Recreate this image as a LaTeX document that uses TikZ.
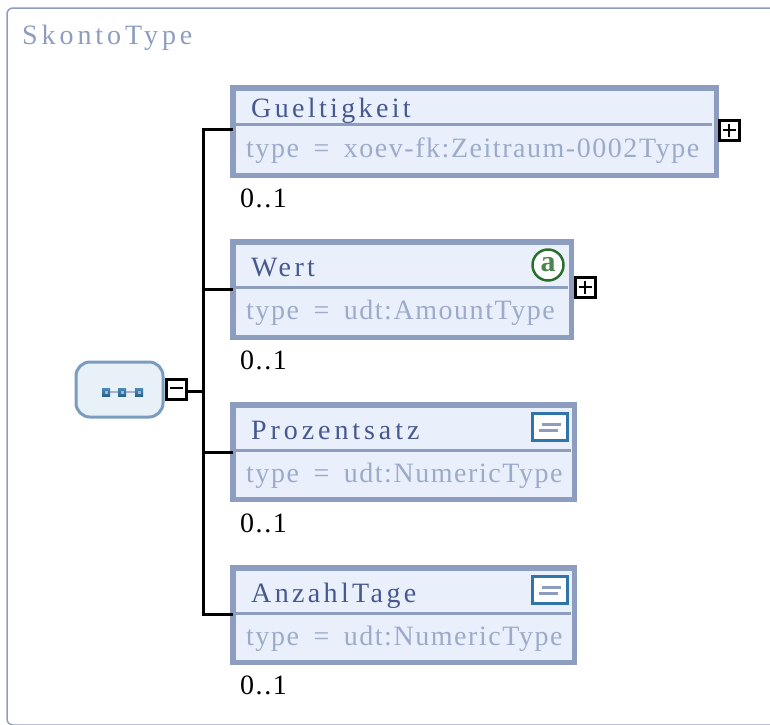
\documentclass[tikz,border=0pt]{standalone}
\usepackage{fontspec}
\setmainfont{Liberation Serif}
\newfontfamily\spacedfont[LetterSpace=12]{Liberation Serif}
\newfontfamily\widefont[LetterSpace=14]{Liberation Serif}
\newfontfamily\typefont[LetterSpace=5.5,WordSpace=1.7]{Liberation Serif}
\usetikzlibrary{positioning}
\definecolor{frameblue}{HTML}{8C9DBF}
\definecolor{titleblue}{HTML}{46588F}
\definecolor{typeblue}{HTML}{9DABCA}
\definecolor{boxfill}{HTML}{E9F0FB}
\definecolor{seqfill}{HTML}{E8F0F8}
\definecolor{seqline}{HTML}{7A9CBF}
\definecolor{iconblue}{HTML}{2F75AA}
\definecolor{attrgreen}{HTML}{2B6F2E}
\tikzstyle{Element}=[rectangle, draw=frameblue, fill=boxfill, line width=5.5, inner sep=0, outer sep=0]
\tikzstyle{Divider}=[draw=frameblue, line width=3]
\tikzstyle{Title}=[anchor=base west, inner sep=0, text=titleblue, font=\fontsize{28}{30}\spacedfont]
\tikzstyle{TypeText}=[anchor=base west, inner sep=0, text=typeblue, font=\fontsize{28}{30}\typefont]
\tikzstyle{Multi}=[anchor=base west, inner sep=0, text=black, font=\fontsize{28}{30}\typefont]
\tikzstyle{Wire}=[draw=black, line width=3]
\tikzstyle{Expander}=[rectangle, draw=black, fill=white, line width=3, minimum width=20, minimum height=20, inner sep=0, outer sep=0]
\tikzstyle{SeqDot}=[rectangle, top color=iconblue!85!white, bottom color=iconblue!85!black, minimum width=8, minimum height=8, inner sep=0, outer sep=0, path picture={\fill[iconblue!50!white] (path picture bounding box.center) ++(-1.5,-1.5) rectangle ++(3,3);}]
\tikzstyle{SimpleIcon}=[rectangle, draw=iconblue, fill=white, line width=3, minimum width=35, minimum height=27, inner sep=0, outer sep=0]

\begin{document}
\begin{tikzpicture}[x=1pt, y=-1pt]
    \useasboundingbox (0,0) rectangle (770,724);
    \begin{scope}
    \clip (0,0) rectangle (770,724);
    \draw[frameblue, line width=1.5, rounded corners=6] (7,8) rectangle (800,725);
    \end{scope}
    \path (22,44) node[anchor=base west, inner sep=0, text=frameblue, font=\fontsize{28}{30}\widefont] (frametitle) {SkontoType};

    \path
    (474.5,131.5) node[Element, minimum width=483.5, minimum height=87.5] (gueltigkeit) {}
    (402,289.5) node[Element, minimum width=338.5, minimum height=95.5] (wert) {}
    (403.5,452) node[Element, minimum width=341.5, minimum height=94.5] (prozentsatz) {}
    (403.5,615) node[Element, minimum width=341.5, minimum height=94.5] (anzahltage) {};

    \draw[Divider] (gueltigkeit.west |- 0,124) -- (712,124);
    \draw[Divider] (wert.west |- 0,287) -- (568,287);
    \draw[Divider] (prozentsatz.west |- 0,450) -- (571,450);
    \draw[Divider] (anzahltage.west |- 0,613) -- (571,613);

    \path
    (251,117) node[Title] (gueltigkeittitle) {Gueltigkeit}
    (251,276) node[Title] (werttitle) {Wert}
    (251,439) node[Title, font=\fontsize{28}{30}\widefont] (prozentsatztitle) {Prozentsatz}
    (251,602) node[Title] (anzahltagetitle) {AnzahlTage};
    \path
    (246,157) node[TypeText] (gueltigkeittype) {type = xoev-fk:Zeitraum-0002Type}
    (246,319) node[TypeText] (werttype) {type = udt:AmountType}
    (246,482) node[TypeText] (prozentsatztype) {type = udt:NumericType}
    (246,645) node[TypeText] (anzahltagetype) {type = udt:NumericType};
    \path
    (240,207) node[Multi] (gueltigkeitmulti) {0..1}
    (240,369) node[Multi] (wertmulti) {0..1}
    (240,532) node[Multi] (prozentsatzmulti) {0..1}
    (240,694) node[Multi] (anzahltagemulti) {0..1};

    % sequence box
    \path (119.5,389.5) node[rectangle, rounded corners=14, draw=seqline, fill=seqfill, line width=3, minimum width=87, minimum height=55, inner sep=0, outer sep=0] (sequence) {};
    \draw[frameblue!80!white, line width=2.5] (106,392) -- (139,392);
    \path
    (106,392) node[SeqDot] (dota) {}
    (122,392) node[SeqDot] (dotb) {}
    (139,392) node[SeqDot] (dotc) {};

    % expanders
    \path (176,389) node[Expander] (collapse) {};
    \draw[black, line width=2.5] (169.5,388) -- (182.5,388);
    \path (729,130) node[Expander] (gueltigkeitplus) {};
    \draw[black, line width=2.5] (722.5,130) -- (735.5,130) (729,123.5) -- (729,136.5);
    \path (585,287) node[Expander] (wertplus) {};
    \draw[black, line width=2.5] (578.5,287) -- (591.5,287) (585,280.5) -- (585,293.5);

    % icons
    \path (548,265) node[circle, draw=attrgreen, fill=white, line width=2.5, minimum size=31, inner sep=0, text=attrgreen!85!white, font=\fontsize{30}{30}\bfseries\selectfont] (wertattr) {a};
    \path
    (550,427) node[SimpleIcon] (prozentsatzicon) {}
    (550,590) node[SimpleIcon] (anzahltageicon) {};
    \draw[frameblue, line width=3] (542,424) -- (561,424) (539,430) -- (558,430);
    \draw[frameblue, line width=3] (542,587) -- (561,587) (539,593) -- (558,593);

    % connectors
    \coordinate (collapsejoin) at (203,391);
    \coordinate (gueltigkeitjoin) at (203,129);
    \coordinate (wertjoin) at (203,289);
    \coordinate (prozentsatzjoin) at (203,452);
    \coordinate (anzahltagejoin) at (203,614);
    \draw[Wire] (collapse.east |- collapsejoin) -- (collapsejoin);
    \draw[Wire] (gueltigkeit.west |- gueltigkeitjoin) -- (gueltigkeitjoin) -- (anzahltagejoin) -- (anzahltage.west |- anzahltagejoin);
    \draw[Wire] (wertjoin) -- (wert.west |- wertjoin);
    \draw[Wire] (prozentsatzjoin) -- (prozentsatz.west |- prozentsatzjoin);
\end{tikzpicture}
\end{document}
